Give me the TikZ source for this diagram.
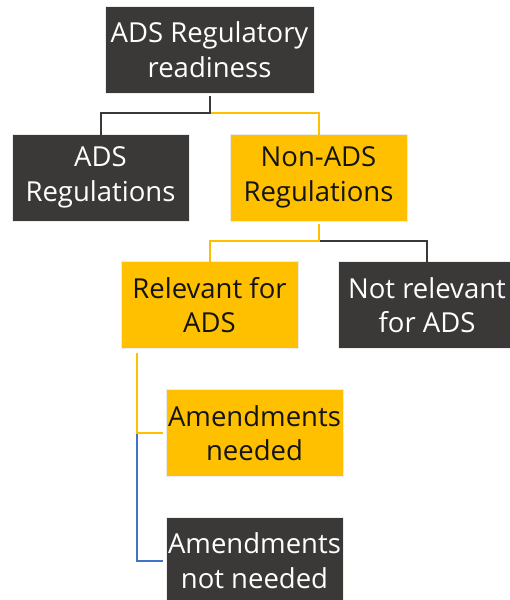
\documentclass[tikz,border=0pt]{standalone}
\usepackage{fontspec}
\setmainfont{Open Sans}
\definecolor{dk}{HTML}{3B3838}
\definecolor{yl}{HTML}{FFC000}
\definecolor{bl}{HTML}{4472C4}
\tikzset{
  box/.style={rectangle, minimum width=177pt, minimum height=87pt, inner sep=0pt, align=center,
    font=\fontsize{27.5}{34.5}\selectfont, draw=white!85!gray, line width=0.6pt},
  dbox/.style={box, fill=dk, text=white},
  ybox/.style={box, fill=yl, text=black!92},
  dline/.style={draw=dk, line width=2pt},
  yline/.style={draw=yl, line width=2pt},
  bline/.style={draw=bl, line width=2pt},
}
\begin{document}
\begin{tikzpicture}[x=1pt,y=-1pt]
\useasboundingbox (0,0) rectangle (510,600);
\node[dbox, minimum width=209pt] (top) at (209.5,49.5) {ADS Regulatory\\readiness};
\node[dbox] (ads) at (100.5,177.5) {ADS\\Regulations};
\node[ybox] (non) at (318.5,177.5) {Non-ADS\\Regulations};
\node[ybox] (rel) at (209.5,305) {Relevant for\\ADS};
\node[dbox, minimum width=178pt] (notrel) at (427,305) {Not relevant\\for ADS};
\node[ybox] (amn) at (254.5,433) {Amendments\\needed};
\node[dbox] (amnn) at (254.5,560.5) {Amendments\\not needed};
\coordinate (j1) at (209.5,113);
\coordinate (j2) at (318.5,241);
\coordinate (j3) at (137,433);
\coordinate (j4) at (137,561);
% top level
\draw[yline] (j1) -| ([yshift=-4pt]non.north);
\draw[dline] ([yshift=-3pt]top.south) -- (j1) -| ([yshift=-4pt]ads.north);
% second level
\draw[dline] (j2) -| ([yshift=-4pt]notrel.north);
\draw[yline] ([yshift=-3pt]non.south) -- (j2) -| ([yshift=-4pt]rel.north);
% third level
\draw[bline] (j3) -- (j4) -- ([xshift=-3pt]amnn.west |- j4);
\draw[yline] (rel.south -| j3) ++(0,4) -- (j3) -- ([xshift=-3pt]amn.west |- j3);
\end{tikzpicture}
\end{document}
